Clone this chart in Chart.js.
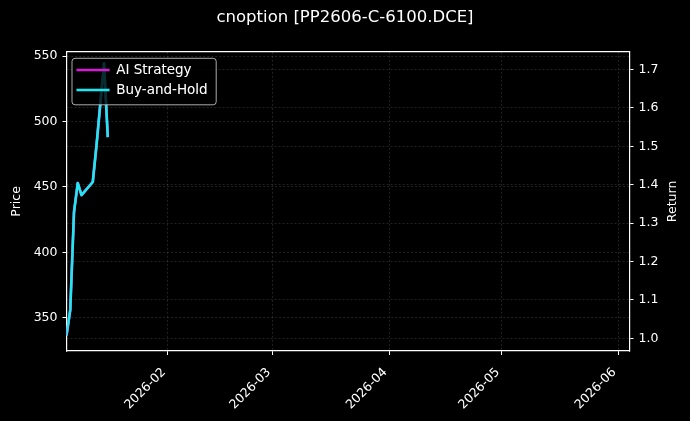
<!DOCTYPE html>
<html>
<head>
<meta charset="utf-8">
<script src="https://cdn.jsdelivr.net/npm/chart.js@4.4.1/dist/chart.umd.min.js"></script>
<style>
  html, body { margin: 0; padding: 0; background: #000; }
  #wrap { width: 690px; height: 421px; }
</style>
</head>
<body>
<div id="wrap"><canvas id="myChart" width="690" height="421"></canvas></div>
<script>
// data
let dates = ['2026-01-05','2026-01-06','2026-01-07','2026-01-08','2026-01-09',
             '2026-01-12','2026-01-13','2026-01-14','2026-01-15','2026-01-16'];
let price = [336.4, 355.9, 430.8, 453.0, 443.8, 453.8, 482.0, 513.4, 544.7, 488.1];
let aiReturn = [1.007, 1.074, 1.329, 1.404, 1.373, 1.407, 1.503, 1.610, 1.716, 1.524];
let holdReturn = [1.007, 1.074, 1.329, 1.404, 1.373, 1.407, 1.503, 1.610, 1.716, 1.524];
let monthTicks = ['2026-02','2026-03','2026-04','2026-05','2026-06'];
let priceTicks = [350, 400, 450, 500, 550];
let returnTicks = [1.0, 1.1, 1.2, 1.3, 1.4, 1.5, 1.6, 1.7];
let xRange = ['2026-01-05', '2026-06-04'];
let priceRange = [324.6, 553.3];
let returnRange = [0.967, 1.746];

let cyan = '#20e6f0';
let magenta = '#d21ed2';
let gridColor = 'rgba(255,255,255,0.22)';
let font = 'DejaVu Sans';

// days since 2026-01-01
function dayNum(s){
  let p = s.split('-').map(Number);
  return (Date.UTC(p[0], p[1] - 1, p[2] || 1) - Date.UTC(2026, 0, 1)) / 86400000;
}
function points(values){
  return dates.map(function(d, i){ return {x: dayNum(d), y: values[i]}; });
}

let legendBox = {
  id: 'legendBox',
  afterLayout(chart){
    let a = chart.chartArea;
    let lg = chart.legend;
    lg.left = a.left + 3.5;
    lg.top = a.top + 5;
    lg.right = a.right;
    lg.bottom = a.bottom;
  },
  afterDatasetsDraw(chart){
    let hb = chart.legend.legendHitBoxes;
    if (!hb || !hb.length) return;
    let ctx = chart.ctx;
    let l = hb[0].left - 4.5;
    let t = hb[0].top - 5;
    let r = Math.max.apply(null, hb.map(function(h){ return h.left + h.width; })) + 8.5;
    let b = hb[hb.length - 1].top + hb[hb.length - 1].height + 8;
    ctx.save();
    ctx.beginPath();
    ctx.roundRect(l, t, r - l, b - t, 3);
    ctx.fillStyle = 'rgba(0,0,0,0.8)';
    ctx.fill();
    ctx.lineWidth = 1;
    ctx.strokeStyle = 'rgba(200,200,200,0.85)';
    ctx.stroke();
    ctx.restore();
    chart.legend.draw();
  },
  afterDraw(chart){
    // right axis label, reading bottom to top
    let s = chart.scales.y1;
    let a = chart.chartArea;
    let ctx = chart.ctx;
    ctx.save();
    ctx.translate(s.right - 17, (a.top + a.bottom) / 2);
    ctx.rotate(-Math.PI / 2);
    ctx.fillStyle = '#fff';
    ctx.font = '12.5px "' + font + '"';
    ctx.textAlign = 'center';
    ctx.textBaseline = 'middle';
    ctx.fillText('Return', 0, 0);
    ctx.restore();
  }
};

let ctx = document.getElementById('myChart');
let chart = new Chart(ctx, {
  type: 'line',
  data: {
    datasets: [{
      label: 'AI Strategy',
      data: points(aiReturn),
      yAxisID: 'y1',
      borderColor: magenta,
      backgroundColor: magenta,
      borderWidth: 2.6,
      order: 1
    }, {
      label: 'Buy-and-Hold',
      data: points(holdReturn),
      yAxisID: 'y1',
      borderColor: cyan,
      backgroundColor: cyan,
      borderWidth: 2.6,
      order: 0
    }, {
      label: 'Price',
      data: points(price),
      yAxisID: 'y',
      borderColor: cyan,
      backgroundColor: cyan,
      borderWidth: 2.2,
      order: 2
    }]
  },
  options: {
    responsive: false,
    animation: false,
    events: [],
    layout: { padding: 0 },
    elements: {
      point: { radius: 0 },
      line: { tension: 0, borderJoinStyle: 'round', fill: false }
    },
    plugins: {
      title: {
        display: true,
        text: 'cnoption [PP2606-C-6100.DCE]',
        color: '#fff',
        font: { family: font, size: 16.5, weight: 'normal' },
        padding: { top: 8, bottom: 24 }
      },
      legend: {
        position: 'chartArea',
        align: 'start',
        labels: {
          color: '#fff',
          font: { family: font, size: 13.5 },
          usePointStyle: true,
          pointStyle: 'line',
          pointStyleWidth: 33,
          padding: 6.5,
          filter: function(item){ return item.datasetIndex < 2; },
          sort: function(a, b){ return a.datasetIndex - b.datasetIndex; }
        }
      },
      tooltip: { enabled: false }
    },
    scales: {
      x: {
        type: 'linear',
        position: 'bottom',
        min: dayNum(xRange[0]),
        max: dayNum(xRange[1]),
        afterBuildTicks: function(s){
          s.ticks = monthTicks.map(function(m){ return {value: dayNum(m)}; });
        },
        afterFit: function(s){ s.height = 70; },
        ticks: {
          color: '#fff',
          font: { family: font, size: 12.5 },
          autoSkip: false,
          minRotation: 45,
          maxRotation: 45,
          padding: 10,
          labelOffset: -4,
          callback: function(v, i){ return monthTicks[i]; }
        },
        grid: { color: gridColor, lineWidth: 0.6, tickColor: '#fff', tickLength: 4, tickWidth: 1 },
        border: { color: '#fff', width: 1.2, dash: [2, 2] }
      },
      x2: {
        type: 'linear',
        position: 'top',
        afterFit: function(s){ s.height = 0; },
        ticks: { display: false },
        grid: { display: false, drawTicks: false },
        border: { color: '#fff', width: 1.2 }
      },
      y: {
        type: 'linear',
        position: 'left',
        min: priceRange[0],
        max: priceRange[1],
        afterBuildTicks: function(s){
          s.ticks = priceTicks.map(function(v){ return {value: v}; });
        },
        afterFit: function(s){ s.width = 66.5; },
        ticks: {
          color: '#fff',
          font: { family: font, size: 12.5 },
          padding: 5
        },
        title: {
          display: true,
          text: 'Price',
          color: '#fff',
          font: { family: font, size: 12.5 },
          padding: { top: 9.5, bottom: 0 }
        },
        grid: { color: gridColor, lineWidth: 0.6, tickColor: '#fff', tickLength: 4, tickWidth: 1 },
        border: { color: '#fff', width: 1.2, dash: [2, 2] }
      },
      y1: {
        type: 'linear',
        position: 'right',
        min: returnRange[0],
        max: returnRange[1],
        afterBuildTicks: function(s){
          s.ticks = returnTicks.map(function(v){ return {value: v}; });
        },
        afterFit: function(s){ s.width = 60.5; },
        ticks: {
          color: '#fff',
          font: { family: font, size: 12.5 },
          padding: 5,
          callback: function(v){ return v.toFixed(1); }
        },
        grid: { color: gridColor, lineWidth: 0.6, tickColor: '#fff', tickLength: 4, tickWidth: 1 },
        border: { color: '#fff', width: 1.2, dash: [2, 2] }
      }
    }
  },
  plugins: [legendBox]
});
</script>
</body>
</html>
